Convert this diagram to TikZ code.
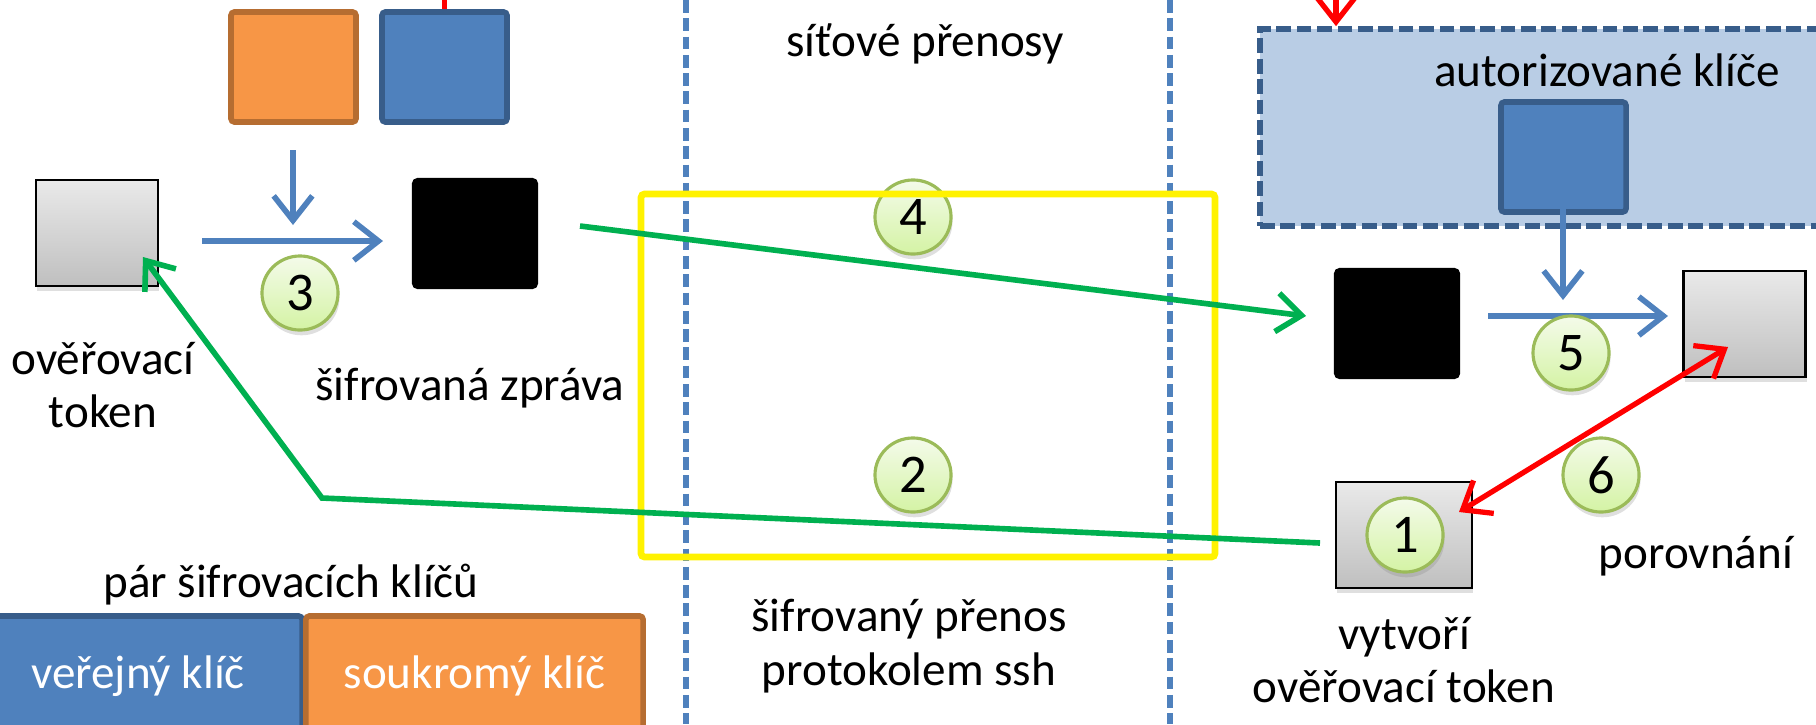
\documentclass[tikz,border=0pt]{standalone}
\usepackage{fontspec}
\setmainfont{Carlito}
\usetikzlibrary{arrows.meta, shadows, positioning, calc, shapes.geometric}

\definecolor{keyblue}{HTML}{4F81BD}
\definecolor{keyblueline}{HTML}{385D8A}
\definecolor{keyorange}{HTML}{F79646}
\definecolor{keyorangeline}{HTML}{B66D31}
\definecolor{authfill}{HTML}{B9CDE5}
\definecolor{netgreen}{HTML}{00B050}
\definecolor{numtop}{HTML}{F4FBEA}
\definecolor{numbot}{HTML}{D4F3A4}
\definecolor{numline}{HTML}{9BBB59}

\tikzset{
  pubkey/.style={draw=keyblueline, fill=keyblue, line width=1.6pt, rounded corners=1pt,
    minimum width=1.25cm, minimum height=1.1cm},
  privkey/.style={pubkey, draw=keyorangeline, fill=keyorange},
  msgbox/.style={fill=black, rounded corners=1.5pt, minimum width=1.26cm, minimum height=1.11cm},
  tokbox/.style={draw=black, line width=0.8pt, top color=gray!17, bottom color=gray!50,
    minimum width=1.22cm, minimum height=1.06cm,
    drop shadow={shadow xshift=0.4pt, shadow yshift=-1.5pt, opacity=0.25}},
  numcirc/.style={ellipse, draw=numline, line width=0.9pt, top color=numtop, bottom color=numbot,
    minimum width=0.76cm, minimum height=0.74cm, inner sep=0pt, font=\fontsize{15.5}{18}\selectfont,
    drop shadow={shadow xshift=0.4pt, shadow yshift=-1.5pt, opacity=0.25}},
  lbl/.style={align=center, inner sep=0pt, font=\fontsize{13.4}{15.2}\selectfont},
  flow/.style={keyblue, line width=1.6pt, -{Straight Barb[length=7pt,width=11pt]}},
  net/.style={netgreen, line width=1.6pt, -{Straight Barb[length=7pt,width=11pt]}},
  cmp/.style={red, line width=1.5pt},
  divider/.style={keyblue, line width=1.5pt, dash pattern=on 3.6pt off 1.6pt},
}

\begin{document}
\begin{tikzpicture}[x=0.01cm, y=-0.01cm]
    \useasboundingbox (0,0) rectangle (1816,724);
    \clip (0,0) rectangle (1816,724);

    \draw[divider] (686,0) -- (686,724);
    \draw[divider] (1170,0) -- (1170,724);
    \node[lbl] (net) at (925,44) {síťové přenosy};

    % client side
    \node[privkey] (priv) at (293.5,67) {};
    \node[pubkey] (pub) at (444.5,67) {};
    \node[tokbox] (tok1) at (97,233) {};
    \node[msgbox] (msg1) at (475,233.5) {};
    \node[lbl] (tok1lbl) at (103,385) {ověřovací\\token};
    \node[lbl] (msg1lbl) at (470,388) {šifrovaná zpráva};
    \coordinate (pubout) at (444.5,-10);
    \draw[cmp] (pub.north) -- (pubout);
    \coordinate (encA) at (202,241);
    \coordinate (encB) at (383,241);
    \coordinate (privA) at (293,150);
    \coordinate (privB) at (293,225);
    \draw[flow] (privA) -- (privB);
    \draw[flow] (encA) -- (encB);

    % server side
    \node[draw=keyblueline, fill=authfill, line width=1.6pt, dash pattern=on 4.2pt off 1.6pt,
      minimum width=6cm, minimum height=1.97cm] (auth) at (1560,127.5) {};
    \node[lbl] (authlbl) at (1607,70) {autorizované klíče};
    \node[pubkey] (authkey) at (1563.5,157) {};
    \node[msgbox] (msg2) at (1397,323.5) {};
    \node[tokbox] (tok2) at (1744.5,324) {};
    \node[tokbox, minimum width=1.36cm] (tok3) at (1404,535) {};
    \node[lbl] (tok2lbl) at (1696,556) {porovnání};
    \node[lbl] (tok3lbl) at (1404,660) {vytvoří\\ověřovací token};
    \coordinate (rin) at (1336,-10);
    \draw[cmp, -{Straight Barb[length=7pt,width=11pt]}] (rin) -- (rin |- auth.north);
    \coordinate (keyA) at (1563,197);
    \coordinate (keyB) at (1563,300);
    \coordinate (decA) at (1488,316);
    \coordinate (decB) at (1668,316);
    \draw[flow] (keyA) -- (keyB);
    \draw[flow] (decA) -- (decB);
    \coordinate (cmpA) at (1728,347);
    \coordinate (cmpB) at (1459,512);
    \draw[cmp, {Straight Barb[length=7pt,width=11pt]}-{Straight Barb[length=7pt,width=11pt]}] (cmpA) -- (cmpB);

    % network
    \node[lbl] (ssh) at (909,646) {šifrovaný přenos\\protokolem ssh};
    \node[numcirc] (n1) at (1405,535) {1};
    \node[numcirc] (n2) at (913,475) {2};
    \node[numcirc] (n3) at (300,293) {3};
    \node[numcirc] (n4) at (913,217) {4};
    \node[numcirc] (n5) at (1571,353) {5};
    \node[numcirc] (n6) at (1601,475) {6};
    \draw[yellow, line width=1.9pt, rounded corners=1pt] (641,194) rectangle (1215,557);
    \coordinate (sendA) at (580,226);
    \coordinate (sendB) at (1306,316);
    \draw[net] (sendA) -- (sendB);
    \coordinate (backA) at (1320,543);
    \coordinate (backB) at (322,498);
    \coordinate (backC) at (143,257);
    \draw[net] (backA) -- (backB) -- (backC);

    % legend
    \node[lbl] (pairlbl) at (291,585) {pár šifrovacích klíčů};
    \node[pubkey, minimum width=3.28cm, minimum height=1.2cm, text=white, font=\fontsize{13.4}{16}\selectfont] (publeg) at (138,676) {veřejný klíč};
    \node[privkey, minimum width=3.37cm, minimum height=1.2cm, text=white, font=\fontsize{13.4}{16}\selectfont] (privleg) at (474.5,676) {soukromý klíč};
\end{tikzpicture}
\end{document}
